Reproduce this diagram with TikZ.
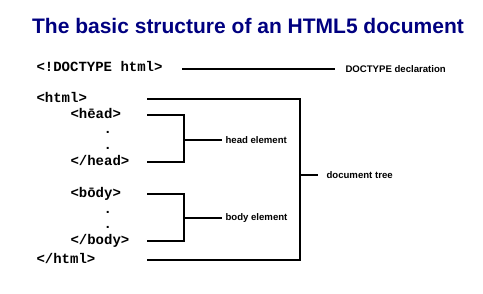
\documentclass[tikz,border=0pt]{standalone}
\usepackage{fontspec}
\setmainfont{Liberation Sans}
\setmonofont{Liberation Mono}
\usetikzlibrary{positioning}
\definecolor{titleblue}{RGB}{0,0,128}

\begin{document}
\begin{tikzpicture}
[x=1pt,y=-1pt,line width=1.1pt,%
  code/.style={anchor=west,inner sep=0pt,text height=8pt,text depth=2pt,
    font=\ttfamily\bfseries\fontsize{14}{14}\selectfont},
  note/.style={anchor=west,inner sep=0pt,
    font=\bfseries\fontsize{9.6}{9.6}\selectfont}]
\useasboundingbox (0,0) rectangle (483,293);
\node[font=\bfseries\fontsize{21}{21}\selectfont,text=titleblue] (title) at (248,26)
  {The basic structure of an HTML5 document};

% the markup
\node[code] (doctype) at (36,68)  {<!DOCTYPE html>};
\node[code] (html)    at (36,99)  {<html>};
\node[code] (head)    at (70,115) {<hēad>};
\node[code] (hdot1)   at (103,130) {.};
\node[code] (hdot2)   at (103,146) {.};
\node[code] (headend) at (70,162) {</head>};
\node[code] (body)    at (70,194) {<bōdy>};
\node[code] (bdot1)   at (103,210) {.};
\node[code] (bdot2)   at (103,225) {.};
\node[code] (bodyend) at (70,241) {</body>};
\node[code] (htmlend) at (36,260) {</html>};

% the notes
\node[note] (dnote)    at (345,69)  {DOCTYPE declaration};
\node[note] (headnote) at (225,140) {head element};
\node[note] (bodynote) at (225,218) {body element};
\node[note] (treenote) at (326,175) {document tree};

% brackets
\coordinate (lx) at (147,0);
\coordinate (hx) at (184,0);
\coordinate (tx) at (300,0);
\draw (182,69) -- ([xshift=-10pt]dnote.west);
\draw (html -| lx) -- (html -| tx) -- (htmlend -| tx) -- (htmlend -| lx);
\draw (treenote -| tx) -- ([xshift=-8pt]treenote.west);
\draw (head -| lx) -- (head -| hx) -- (headend -| hx) -- (headend -| lx);
\draw (headnote -| hx) -- ([xshift=-3pt]headnote.west);
\draw (body -| lx) -- (body -| hx) -- (bodyend -| hx) -- (bodyend -| lx);
\draw (bodynote -| hx) -- ([xshift=-3pt]bodynote.west);
\end{tikzpicture}
\end{document}
